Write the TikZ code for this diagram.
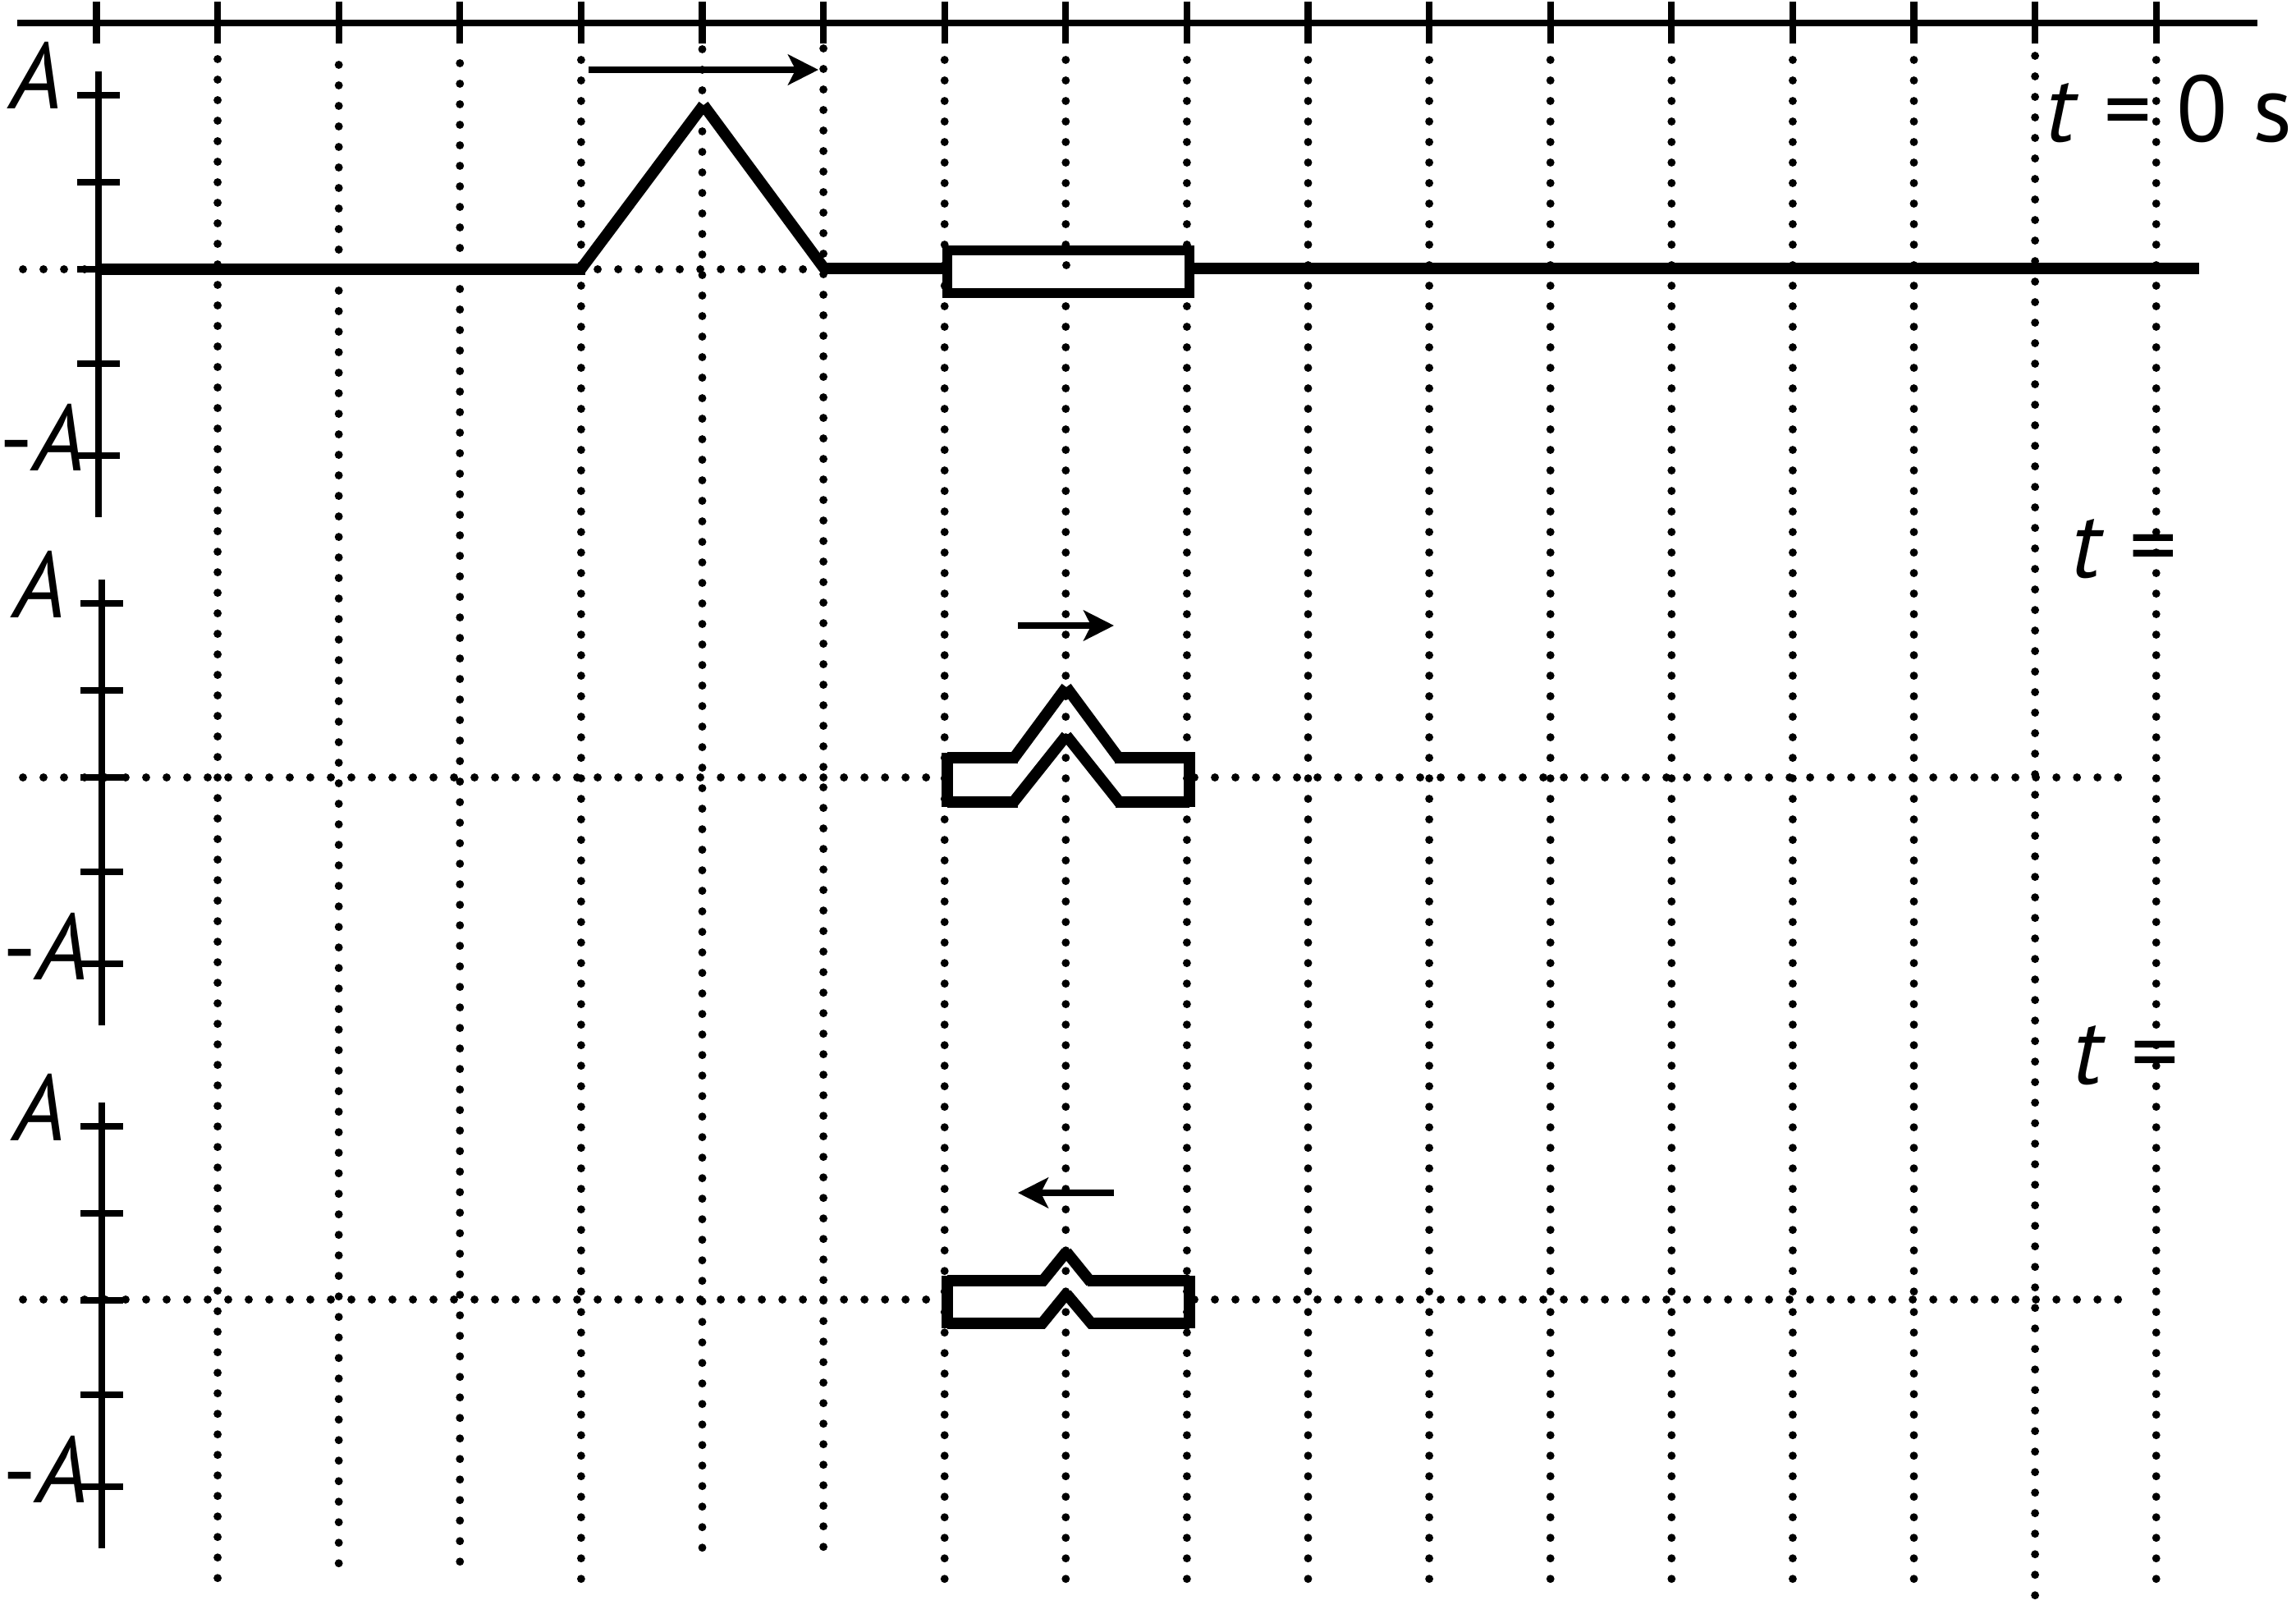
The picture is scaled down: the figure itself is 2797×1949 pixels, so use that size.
\documentclass[tikz,border=0pt]{standalone}
\usepackage{fontspec}
\setmainfont{PT Sans}
\usetikzlibrary{arrows.meta}
\begin{document}
\begin{tikzpicture}[x=0.01cm,y=-0.01cm,
  axisline/.style={line width=2.3pt},
  tickline/.style={line width=2.3pt},
  dotline/.style={line width=2.8pt,line cap=round,dash pattern=on 0pt off 7.11pt},
  stringline/.style={line width=3.9pt,line cap=butt},
  rectline/.style={line width=3.5pt},
  movearrow/.style={line width=2.5pt,-{Stealth[length=10.5pt,width=10.5pt,inset=2.6pt]}},
  lbl/.style={inner sep=0pt,font=\fontsize{32.5}{36}\selectfont}]
\useasboundingbox (0,0) rectangle (2797,1949);
% horizontal dotted zero lines
\draw[dotline] (28,328) -- (1150,328);
\draw[dotline] (28,947) -- (1150,947);
\draw[dotline] (1455,947) -- (2581,947);
\draw[dotline] (28,1583) -- (1150,1583);
\draw[dotline] (1455,1583) -- (2581,1583);
% vertical dotted grid lines
\foreach \i/\s/\e in {1/72/1931,2/79/1912,3/77/1910,4/73/1931,5/60/1892,6/59/1892,
  7/73/1931,8/73/1931,9/73/1931,10/73/1931,11/73/1931,12/73/1931,13/73/1931,
  14/73/1931,15/73/1931,16/68/1952,17/73/1931}
  \draw[dotline] ({117.5+147.6*\i},\s) -- ({117.5+147.6*\i},\e);
% top axis
\draw[axisline] (21,28) -- (2750,28);
\foreach \i in {0,...,17}
  \draw[tickline] ({117.5+147.6*\i},2) -- ({117.5+147.6*\i},53);
% panel axes
\foreach \dy/\ax/\n in {0/120/1,619/124/2,1256/124/3}{
  \draw[axisline] (\ax,{87+\dy}) -- (\ax,{630+\dy});
  \foreach \ty in {116,222,328,443,555}
    \draw[tickline] ({\ax-26},{\ty+\dy}) -- ({\ax+26},{\ty+\dy});
  \node[lbl,anchor=base west] (Apos\n) at ({\ax-108},{133+\dy}) {\textit{A}};
  \node[lbl,anchor=base west] (Aneg\n) at ({\ax-121},{574+\dy}) {-\textit{A}};
}
% time labels
\node[lbl,anchor=base west] (t0) at (2492,173) {\textit{t} = 0 s};
\node[lbl,anchor=base west] (t1) at (2523,703) {\textit{t} =};
\node[lbl,anchor=base west] (t2) at (2525,1320) {\textit{t} =};
% panel 1 string
\draw[stringline] (120,328) -- (713,328);
\draw[stringline] (706,330) -- (857,128);
\draw[stringline] (857,128) -- (1004,327);
\draw[stringline] (999,327) -- (1154,327);
\draw[stringline] (1449,327) -- (2679,327);
\draw[rectline,fill=white] (1154,305) rectangle (1449,357);
\draw[dotline] (1299,323) -- (1299,343);
\draw[movearrow] (717,85) -- (997,85);
% panel 2 tube
\draw[stringline] (1154,923) -- (1240,923);
\draw[stringline] (1234,925) -- (1299,837);
\draw[stringline] (1299,837) -- (1364,925);
\draw[stringline] (1358,923) -- (1449,923);
\draw[stringline] (1154,977) -- (1240,977);
\draw[stringline] (1233,979) -- (1299,896);
\draw[stringline] (1299,896) -- (1365,979);
\draw[stringline] (1359,977) -- (1449,977);
\draw[stringline] (1154,917) -- (1154,983);
\draw[stringline] (1449,916) -- (1449,983);
\draw[movearrow] (1240,762) -- (1357,762);
% panel 3 tube
\draw[stringline] (1154,1560) -- (1274,1560);
\draw[stringline] (1269,1562) -- (1299,1525);
\draw[stringline] (1299,1525) -- (1329,1562);
\draw[stringline] (1325,1560) -- (1449,1560);
\draw[stringline] (1154,1612) -- (1273,1612);
\draw[stringline] (1268,1614) -- (1299,1576);
\draw[stringline] (1299,1576) -- (1331,1614);
\draw[stringline] (1326,1612) -- (1449,1612);
\draw[stringline] (1154,1554) -- (1154,1618);
\draw[stringline] (1449,1554) -- (1449,1618);
\draw[movearrow] (1357,1453) -- (1240,1453);
\end{tikzpicture}
\end{document}
